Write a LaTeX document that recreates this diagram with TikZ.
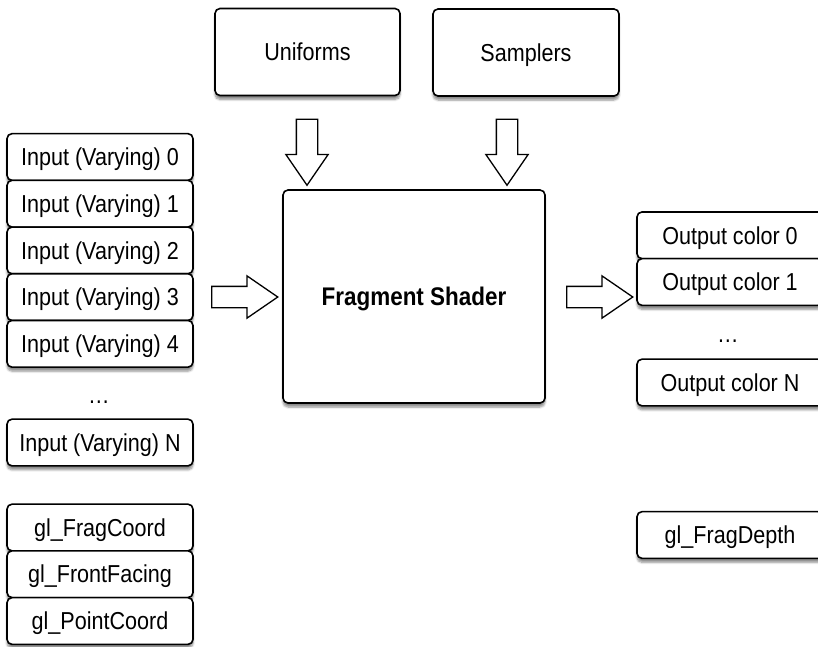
\documentclass[tikz,border=0pt]{standalone}
\usepackage{fontspec}
\setmainfont[FakeStretch=0.88]{Liberation Sans}
\usetikzlibrary{shapes.arrows,shadows.blur}

\begin{document}
\begin{tikzpicture}[x=1pt, y=-1pt,
    box/.style={draw, line width=1.6pt, rounded corners=5pt, fill=white,
        minimum width=186pt, minimum height=46.7pt, inner sep=0pt, text height=17.5pt, text depth=0pt,
        blur shadow={shadow xshift=0pt, shadow yshift=-4pt, shadow blur steps=6, shadow opacity=45},
        font=\fontsize{24.5}{27}\selectfont},
    flow/.style={draw, line width=1.3pt, fill=white, single arrow, inner xsep=0pt, inner ysep=10pt,
        single arrow head extend=10.5pt, single arrow tip angle=69, minimum height=66pt},
    dots/.style={font=\fontsize{24.5}{27}\selectfont}]
    \useasboundingbox (0, 0) rectangle (818, 646);
    \clip (0, 0) rectangle (818, 646);

    % sources on top
    \node[box, minimum width=185pt, minimum height=87pt] (UN) at (307.5, 52) {Uniforms};
    \node[box, minimum height=87pt] (SM) at (526, 52.5) {Samplers};

    % the shader itself
    \node[box, minimum width=262pt, minimum height=213pt, font=\fontsize{25.5}{28}\selectfont\bfseries] (FS) at (414, 296.5) {Fragment Shader};

    % inputs
    \foreach \i in {0,...,4}
        \node[box] (IV\i) at (100, {157+46.7*\i}) {Input (Varying) \i};
    \node[dots] (ID) at (99, 402) {\dots};
    \node[box] (IVN) at (100, 442.5) {Input (Varying) N};
    \node[box] (FC) at (100, 527.5) {gl\_FragCoord};
    \node[box] (FF) at (100, 574.2) {gl\_FrontFacing};
    \node[box] (PC) at (100, 621) {gl\_PointCoord};

    % outputs
    \node[box] (OC0) at (730, 235.3) {Output color 0};
    \node[box] (OC1) at (730, 282) {Output color 1};
    \node[dots] (OD) at (728, 341) {\dots};
    \node[box] (OCN) at (730, 382.5) {Output color N};
    \node[box] (FD) at (730, 535) {gl\_FragDepth};

    % block arrows
    \node[flow, rotate=-90] (UA) at (307, 144.5) {};
    \node[flow, rotate=-90] (SA) at (507, 144.5) {};
    \node[flow] (IA) at (237, 297) {};
    \node[flow] (OA) at (592, 297) {};
\end{tikzpicture}
\end{document}
